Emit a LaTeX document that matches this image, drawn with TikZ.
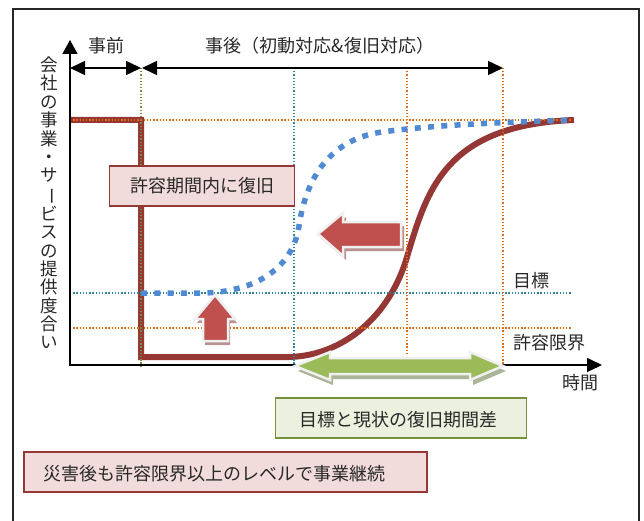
\documentclass[tikz,border=0pt]{standalone}
\usepackage{fontspec}
\setmainfont{Noto Sans CJK JP}
\usepackage{graphicx}
\usetikzlibrary{arrows.meta}
\definecolor{dred}{RGB}{149,55,53}
\definecolor{afill}{RGB}{192,80,77}
\definecolor{ashadow}{RGB}{185,145,145}
\definecolor{pinkfill}{RGB}{242,220,219}
\definecolor{gfill}{RGB}{155,187,89}
\definecolor{gshadow}{RGB}{170,180,150}
\definecolor{gboxfill}{RGB}{235,241,222}
\definecolor{gborder}{RGB}{118,146,60}
\definecolor{bdot}{RGB}{80,138,210}
\definecolor{odot}{RGB}{228,108,10}
\definecolor{tdot}{RGB}{49,133,155}
\definecolor{txt}{RGB}{40,40,40}
\begin{document}
\begin{tikzpicture}[x=1pt,y=-1pt,
  lbl/.style={font=\fontsize{18}{20}\selectfont, text=txt, inner sep=0pt},
  axisline/.style={line width=1.5pt, black},
  grido/.style={odot, line width=1.3pt, dash pattern=on 1.3pt off 1.9pt},
  gridt/.style={tdot, line width=1.3pt, dash pattern=on 1.3pt off 1.9pt},
  gridg/.style={gborder, line width=1.3pt, dash pattern=on 1.3pt off 1.9pt},
  redline/.style={dred, line width=6pt, line join=miter},
  blueline/.style={bdot, line width=5.5pt, dash pattern=on 6pt off 7.3pt},
  pinkbox/.style={draw=dred, fill=pinkfill, line width=1.5pt, inner sep=0pt},
  greenbox/.style={draw=gborder, fill=gboxfill, line width=1.5pt, inner sep=0pt},
  redarrow/.style={fill=afill, draw=black!6, line width=2.5pt, line join=miter},
  redarrowshadow/.style={fill=ashadow},
  greenarrow/.style={fill=gfill, draw=black!6, line width=2.5pt, line join=miter},
  greenarrowshadow/.style={fill=gshadow},
  toptip/.tip={Triangle[length=15pt,width=14pt]},
  axtip/.tip={Triangle[length=14pt,width=15pt]}
]
\useasboundingbox (0,0) rectangle (644,521);
% frame
\draw[line width=1.5pt, black!85] (13,9) rectangle (639,540);

% coordinates
\coordinate (O) at (70,365);
\coordinate (Ytop) at (70,40);
\coordinate (Xend) at (602,365);
\coordinate (A1) at (70,68);
\coordinate (A2) at (141,68);
\coordinate (A3) at (142,68);
\coordinate (A4) at (503,68);

% red level line
\draw[redline] (70,120) -- (141,120) -- (141,357) -- (290,357)
  .. controls (345,355) and (390,315) .. (407,257)
  .. controls (427,190) and (445,125) .. (574,120);

% dotted grid
\draw[grido] (70,120) -- (572,120);
\draw[gridt] (70,293) -- (572,293);
\draw[grido] (70,328) -- (572,328);
\draw[gridg] (141,68) -- (141,367);
\draw[gridt] (294,68) -- (294,367);
\draw[grido] (407,68) -- (407,355);
\draw[grido] (503,68) -- (503,365);

% blue target curve
\draw[blueline] (141,293) -- (200,293)
  .. controls (250,293) and (292,272) .. (299,226)
  .. controls (305,185) and (325,140) .. (382,132)
  .. controls (440,124) and (520,122) .. (572,120);

% axes
\draw[axisline, axtip-toptip] (Ytop) -- (O) -- (Xend);
% top arrows
\draw[axisline, toptip-toptip] (A1) -- (A2);
\draw[axisline, toptip-toptip] (A3) -- (A4);

% labels
\node[lbl] (pre) at (106,46) {事前};
\node[lbl] (post) at (320,46) {事後（初動対応\&復旧対応）};
\node[lbl] (goal) at (531,281) {目標};
\node[lbl] (limit) at (549,343) {許容限界};
\node[lbl] (time) at (580,383) {時間};
\node[lbl, align=center, font=\fontsize{17.5}{18.35}\selectfont] (ylab) at (49,203)
 {会\\社\\の\\事\\業\\・\\サ\\\rotatebox[origin=c]{-90}{ー}\\ビ\\ス\\の\\提\\供\\度\\合\\い};

% block arrows
\fill[redarrowshadow, shift={(3,4)}] (318,234) -- (343,213) -- (343,222) -- (401,222) -- (401,247) -- (343,247) -- (343,256) -- cycle;
\draw[redarrow] (318,234) -- (343,213) -- (343,222) -- (401,222) -- (401,247) -- (343,247) -- (343,256) -- cycle;
\fill[redarrowshadow, shift={(2,4)}] (215,295) -- (235,319) -- (228,319) -- (228,341) -- (203,341) -- (203,319) -- (195,319) -- cycle;
\draw[redarrow] (215,295) -- (235,319) -- (228,319) -- (228,341) -- (203,341) -- (203,319) -- (195,319) -- cycle;
\fill[greenarrowshadow, shift={(3,5)}] (295,366) -- (330,352) -- (330,358) -- (470,358) -- (470,352) -- (503,366) -- (470,380) -- (470,374) -- (330,374) -- (330,380) -- cycle;
\draw[greenarrow] (295,366) -- (330,352) -- (330,358) -- (470,358) -- (470,352) -- (503,366) -- (470,380) -- (470,374) -- (330,374) -- (330,380) -- cycle;

% boxes
\node[pinkbox, minimum width=185pt, minimum height=40pt] (box1) at (202,186) {};
\node[lbl] (box1t) at (box1.center) {許容期間内に復旧};
\node[greenbox, minimum width=251pt, minimum height=40pt] (box2) at (401,418) {};
\node[lbl] (box2t) at (398,420) {目標と現状の復旧期間差};
\node[pinkbox, minimum width=403pt, minimum height=40pt] (box3) at (225.5,472) {};
\node[lbl, anchor=west] (box3t) at (43,474) {災害後も許容限界以上のレベルで事業継続};
\end{tikzpicture}
\end{document}
